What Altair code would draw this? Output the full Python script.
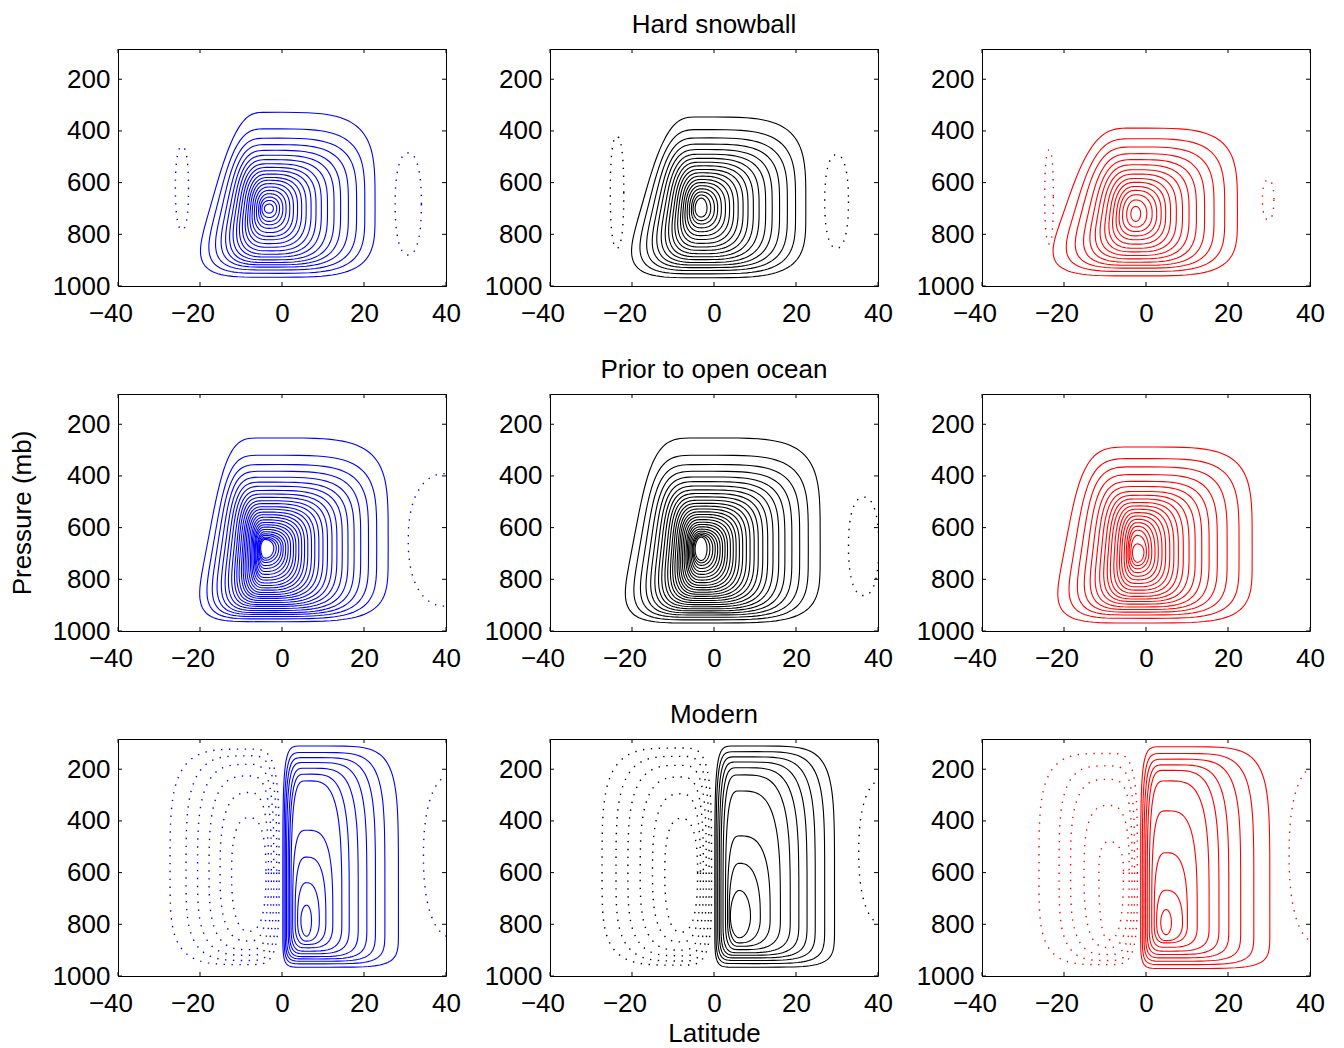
import numpy as np
import pandas as pd
import altair as alt

FONT = "Liberation Sans"
COLORS = ["#0000ff", "#000000", "#ff0000"]
ROW_TITLES = ["Hard snowball", "Prior to open ocean", "Modern"]
X_TICKS = [-40, -20, 0, 20, 40]
Y_TICKS = [200, 400, 600, 800, 1000]
P_TOP = 83
W, H = 328, 237

# ---------------- Hard snowball ----------------
hs_blue_center = (-3.1, 700)
hs_blue_left = [-17.6, -16.0, -14.7, -13.6, -12.7, -11.9, -11.2, -10.5, -9.9, -9.3,
                -8.7, -8.2, -7.7, -7.2, -6.7, -6.2, -5.7, -5.3, -4.9, -4.3]
hs_blue_right = [22.7, 20.2, 18.2, 16.2, 14.3, 12.7, 11.1, 9.6, 8.3, 7.1,
                 5.9, 4.8, 3.8, 2.8, 1.9, 1.0, 0.2, -0.6, -1.3, -2.1]
hs_blue_top = [328, 392, 428, 453, 475, 494, 511, 527, 541, 554,
               567, 580, 591, 604, 617, 630, 643, 656, 669, 683]
hs_blue_bottom = [966, 951, 938, 927, 918, 909, 899, 888, 877, 864,
                  850, 836, 821, 808, 793, 777, 763, 750, 735, 718]
hs_blue_neg = [((-24.4, 620), -26.0, -22.8, 460, 783), ((30.8, 683), 27.6, 34.0, 485, 880)]

hs_black_center = (-3.1, 699)
hs_black_left = [-17.8, -16.2, -14.9, -13.8, -12.9, -12.0, -11.2, -10.5, -9.8, -9.2,
                 -8.6, -8.0, -7.5, -7.0, -6.5, -6.0, -5.5, -5.1, -4.6]
hs_black_right = [22.4, 19.9, 17.9, 16.0, 14.2, 12.6, 11.0, 9.6, 8.3, 7.1,
                  5.9, 4.8, 3.8, 2.8, 1.8, 0.9, 0.1, -0.8, -1.7]
hs_black_top = [346, 395, 427, 451, 472, 490, 506, 521, 535, 549,
                562, 575, 588, 600, 612, 624, 636, 648, 660]
hs_black_bottom = [968, 953, 940, 929, 919, 909, 898, 887, 875, 862,
                   849, 835, 820, 805, 790, 775, 760, 747, 733]
hs_black_neg = [((-23.7, 638), -25.3, -22.0, 421, 854), ((29.9, 673), 27.0, 32.8, 492, 854)]

hs_red_center = (-2.5, 720)
hs_red_left = [-20.2, -17.6, -15.8, -14.1, -12.8, -11.7, -10.7, -9.7, -8.8, -8.0,
               -7.2, -6.5, -5.7, -4.7, -3.7]
hs_red_right = [22.3, 19.2, 16.6, 14.3, 12.3, 10.5, 8.9, 7.4, 6.0, 4.8,
                3.7, 2.6, 1.5, 0.2, -1.3]
hs_red_top = [389, 430, 462, 488, 511, 531, 550, 567, 584, 599, 615, 630, 647, 667, 692]
hs_red_bottom = [961, 944, 931, 920, 908, 895, 882, 868, 854, 838, 821, 806, 789, 772, 750]
hs_red_neg = [((-23.6, 655), -24.7, -22.6, 473, 837), ((29.8, 666), 28.4, 31.2, 589, 744)]

# ---------------- Prior to open ocean ----------------
pr_blue_center = (-4.1, 679)
pr_blue_left = [-18.4, -16.9, -15.8, -14.8, -13.9, -13.1, -12.4, -11.7, -11.1, -10.6,
                -10.1, -9.6, -9.2, -8.8, -8.4, -8.0, -7.6, -7.3, -7.0, -6.7,
                -6.5, -6.3, -6.0, -5.9, -5.7, -5.5, -5.4, -5.2]
pr_blue_right = [25.9, 23.1, 21.1, 19.2, 17.6, 16.1, 14.7, 13.4, 12.2, 11.1,
                 10.0, 9.0, 8.0, 7.2, 6.3, 5.5, 4.8, 4.1, 3.4, 2.8,
                 2.1, 1.5, 0.9, 0.3, -0.2, -0.8, -1.4, -2.0]
pr_blue_top = [253, 320, 356, 382, 405, 424, 440, 456, 470, 483,
               496, 507, 519, 529, 540, 550, 560, 570, 580, 589,
               598, 607, 616, 624, 630, 637, 642, 646]
pr_blue_bottom = [964, 953, 944, 936, 929, 921, 913, 905, 898, 890,
                  882, 874, 867, 859, 851, 842, 833, 824, 814, 803,
                  793, 781, 770, 758, 747, 735, 726, 718]
pr_blue_neg = [((40.0, 648), 30.8, 49.2, 391, 904)]

pr_black_center = (-3.1, 682)
pr_black_left = [-20.0, -18.2, -16.8, -15.6, -14.6, -13.7, -12.9, -12.2, -11.5, -10.9,
                 -10.3, -9.8, -9.3, -8.8, -8.4, -8.0, -7.6, -7.2, -6.8, -6.5,
                 -6.2, -5.9, -5.6, -5.3, -5.1, -4.9, -4.6]
pr_black_right = [25.9, 23.0, 20.9, 19.0, 17.3, 15.8, 14.4, 13.1, 11.9, 10.8,
                  9.8, 8.8, 7.9, 7.0, 6.2, 5.4, 4.7, 4.0, 3.3, 2.7,
                  2.1, 1.5, 0.9, 0.3, -0.3, -1.0, -1.7]
pr_black_top = [253, 320, 356, 382, 404, 422, 439, 454, 468, 481,
                494, 506, 517, 528, 539, 549, 559, 569, 579, 588,
                597, 606, 614, 621, 627, 632, 637]
pr_black_bottom = [969, 957, 947, 938, 930, 922, 914, 906, 898, 890,
                   882, 874, 866, 858, 850, 841, 832, 823, 813, 803,
                   792, 781, 770, 758, 746, 736, 727]
pr_black_neg = [((36.5, 672), 32.8, 40.2, 482, 863)]

pr_red_center = (-2.1, 695)
pr_red_left = [-20.0, -17.6, -15.8, -14.3, -13.0, -11.9, -10.9, -10.0, -9.2, -8.5,
               -7.7, -7.0, -6.4, -5.9, -5.3, -4.8, -4.4, -4.1, -3.7, -3.3]
pr_red_right = [25.9, 22.7, 19.8, 17.4, 15.4, 13.6, 12.0, 10.5, 9.1, 7.9,
                6.8, 5.8, 4.8, 3.9, 3.0, 2.2, 1.4, 0.7, 0.1, -0.5]
pr_red_top = [288, 333, 365, 395, 421, 441, 460, 475, 489, 503,
              516, 529, 542, 555, 568, 581, 595, 610, 630, 663]
pr_red_bottom = [969, 951, 938, 927, 917, 907, 896, 886, 876, 866,
                 854, 842, 829, 816, 802, 788, 774, 759, 747, 734]
pr_red_neg = []

# ---------------- Modern ----------------
mo_blue_center = (6.0, 785)
mo_blue_left = [0.2, 0.5, 0.8, 1.1, 1.5, 1.8, 2.2, 2.6, 3.2, 3.8, 4.6]
mo_blue_right = [28.4, 25.1, 22.8, 20.7, 18.6, 16.4, 14.6, 12.4, 10.7, 9.1, 7.2]
mo_blue_top = [110, 135, 155, 174, 196, 219, 245, 436, 540, 639, 726]
mo_blue_bottom = [966, 953, 943, 934, 925, 914, 904, 891, 878, 865, 846]
mo_blue_negcell = ((-8.0, 600), [-27.3, -23.4, -20.6, -17.8, -15.1, -12.3],
                   [-0.7, -1.3, -2.0, -2.6, -3.3, -3.9],
                   [122, 148, 181, 226, 290, 387], [956, 940, 920, 898, 865, 827])
mo_blue_neg = [((42.0, 535), 34.5, 49.5, 219, 852)]

mo_black_center = (6.2, 770)
mo_black_left = [0.2, 0.5, 0.9, 1.3, 1.7, 2.2, 2.8, 3.3, 3.7, 4.0]
mo_black_right = [29.4, 27.0, 24.7, 22.7, 20.7, 18.6, 16.2, 13.7, 11.3, 8.9]
mo_black_top = [110, 132, 152, 172, 194, 222, 284, 458, 564, 669]
mo_black_bottom = [966, 952, 940, 930, 920, 910, 898, 885, 872, 852]
mo_black_negcell = ((-8.0, 600), [-27.3, -23.9, -21.0, -18.0, -15.0, -12.0],
                    [-0.6, -1.2, -1.9, -2.6, -3.3, -4.0],
                    [118, 150, 185, 230, 295, 390], [958, 942, 922, 900, 868, 830])
mo_black_neg = [((41.5, 520), 35.3, 47.7, 239, 801)]

mo_red_center = (4.9, 794)
mo_red_left = [-1.3, -0.9, -0.5, -0.1, 0.3, 0.8, 1.4, 2.0, 2.6, 3.6]
mo_red_right = [30.2, 26.3, 23.1, 20.2, 17.8, 15.4, 12.5, 10.1, 8.9, 6.2]
mo_red_top = [113, 139, 161, 183, 204, 245, 361, 523, 668, 743]
mo_red_bottom = [971, 956, 943, 930, 917, 904, 889, 872, 863, 840]
mo_red_negcell = ((-9.0, 600), [-26.1, -21.2, -18.4, -15.1, -11.5],
                  [-2.1, -2.8, -3.4, -4.1, -5.5],
                  [139, 187, 239, 340, 480], [956, 940, 917, 890, 860])
mo_red_neg = [((42.0, 530), 34.9, 49.0, 187, 872)]

# panel layout: (center, left, right, top, bottom, shear, n_outer, n_inner, neg nested, neg cells)
PANELS = [
    [(hs_blue_center, hs_blue_left, hs_blue_right, hs_blue_top, hs_blue_bottom, 1.8, 4.0, 2.0, None, hs_blue_neg),
     (hs_black_center, hs_black_left, hs_black_right, hs_black_top, hs_black_bottom, 1.8, 4.0, 2.0, None, hs_black_neg),
     (hs_red_center, hs_red_left, hs_red_right, hs_red_top, hs_red_bottom, 2.2, 4.0, 2.0, None, hs_red_neg)],
    [(pr_blue_center, pr_blue_left, pr_blue_right, pr_blue_top, pr_blue_bottom, 1.2, 4.5, 2.0, None, pr_blue_neg),
     (pr_black_center, pr_black_left, pr_black_right, pr_black_top, pr_black_bottom, 1.2, 4.5, 2.0, None, pr_black_neg),
     (pr_red_center, pr_red_left, pr_red_right, pr_red_top, pr_red_bottom, 1.2, 4.5, 2.0, None, pr_red_neg)],
    [(mo_blue_center, mo_blue_left, mo_blue_right, mo_blue_top, mo_blue_bottom, 0.0, 6.0, 2.0, mo_blue_negcell, mo_blue_neg),
     (mo_black_center, mo_black_left, mo_black_right, mo_black_top, mo_black_bottom, 0.0, 6.0, 2.0, mo_black_negcell, mo_black_neg),
     (mo_red_center, mo_red_left, mo_red_right, mo_red_top, mo_red_bottom, 0.0, 6.0, 2.0, mo_red_negcell, mo_red_neg)],
]


def ring(cx, cp, L, R, T, B, n, shear, npts=110):
    t = np.linspace(0.0, 2 * np.pi, npts)
    c, s = np.cos(t), np.sin(t)
    fx = np.sign(c) * np.abs(c) ** (2.0 / n)
    fy = np.sign(s) * np.abs(s) ** (2.0 / n)
    x = np.where(fx >= 0, cx + (R - cx) * fx, cx + (cx - L) * fx)
    p = np.where(fy >= 0, cp + (B - cp) * fy, cp + (cp - T) * fy)
    x = x - np.where(fx < 0, shear * (p - cp) / 100.0 * np.abs(fx), 0.0)
    return np.round(x, 2), np.round(p, 1)


def nested(center, Ls, Rs, Ts, Bs, shear, n_out, n_in, tag):
    cx, cp = center
    frames = []
    k = len(Ls)
    for i in range(k):
        n = n_out + (n_in - n_out) * (i / max(k - 1, 1))
        sh = shear * (cx - Ls[i]) / (cx - Ls[0])
        x, p = ring(cx, cp, Ls[i], Rs[i], Ts[i], Bs[i], n, sh)
        frames.append(pd.DataFrame({"lat": x, "p": p, "cid": f"{tag}{i}", "k": np.arange(len(x))}))
    return frames


xscale = alt.Scale(domain=[-40, 40], nice=False, zero=False)
yscale = alt.Scale(domain=[P_TOP, 1000], reverse=True, nice=False, zero=False)

neg_cond_align = {"condition": {"test": "datum.value < 0", "value": "right"}, "value": "center"}
neg_cond_offset = {"condition": {"test": "datum.value < 0", "value": 14.5}, "value": 0}


def make_panel(r, c):
    center, Ls, Rs, Ts, Bs, shear, n_out, n_in, negcell, negs = PANELS[r][c]
    color = COLORS[c]
    solid = pd.concat(nested(center, Ls, Rs, Ts, Bs, shear, n_out, n_in, "s"), ignore_index=True)
    dframes = []
    if negcell is not None:
        dframes += nested(negcell[0], negcell[1], negcell[2], negcell[3], negcell[4], 0.0, 4.0, 2.5, "n")
    for j, (cen, L, R, T, B) in enumerate(negs):
        x, p = ring(cen[0], cen[1], L, R, T, B, 2.3, 0.0)
        dframes.append(pd.DataFrame({"lat": x, "p": p, "cid": f"d{j}", "k": np.arange(len(x))}))

    xaxis = alt.Axis(values=X_TICKS, format="d", labelFlush=False, labelPadding=14,
                     labelAlign=neg_cond_align, labelOffset=neg_cond_offset,
                     title="Latitude" if (r == 2 and c == 1) else None, titlePadding=4)
    yaxis = alt.Axis(values=Y_TICKS, format="d", labelPadding=8,
                     title="Pressure (mb)" if (r == 1 and c == 0) else None, titlePadding=17)
    X = alt.X("lat:Q", scale=xscale, axis=xaxis)
    Y = alt.Y("p:Q", scale=yscale, axis=yaxis)

    layers = [alt.Chart(solid).mark_line(color=color, strokeWidth=1.1, clip=True).encode(
        x=X, y=Y, detail="cid:N", order="k:Q")]
    if dframes:
        dotted = pd.concat(dframes, ignore_index=True)
        layers.append(alt.Chart(dotted).mark_line(color=color, strokeWidth=1.4, strokeDash=[1.4, 6.5],
                                                  clip=True).encode(
            x=X, y=Y, detail="cid:N", order="k:Q"))
    xt = pd.DataFrame({"lat": X_TICKS})
    yt = pd.DataFrame({"p": Y_TICKS})
    layers.append(alt.Chart(xt).mark_rule(color="black", strokeWidth=1).encode(
        x=X, y=alt.value(0), y2=alt.value(4)))
    layers.append(alt.Chart(xt).mark_rule(color="black", strokeWidth=1).encode(
        x=X, y=alt.value(H), y2=alt.value(H - 4)))
    layers.append(alt.Chart(yt).mark_rule(color="black", strokeWidth=1).encode(
        y=Y, x=alt.value(0), x2=alt.value(4)))
    layers.append(alt.Chart(yt).mark_rule(color="black", strokeWidth=1).encode(
        y=Y, x=alt.value(W), x2=alt.value(W - 4)))
    props = dict(width=W, height=H)
    if c == 1:
        props["title"] = alt.TitleParams(ROW_TITLES[r], offset=11, anchor="middle")
    return alt.layer(*layers).properties(**props)


panels = [make_panel(r, c) for r in range(3) for c in range(3)]

chart = alt.concat(*panels, columns=3, spacing={"row": 29, "column": 22}, align="each").properties(
    padding={"left": 0, "top": 3, "right": 0, "bottom": 0},
    background="white"
).configure_view(
    stroke="black", strokeWidth=1
).configure_axis(
    labelFont=FONT, labelFontSize=26, labelColor="black",
    titleFont=FONT, titleFontSize=26, titleFontWeight="normal", titleColor="black",
    grid=False, domain=False, ticks=False, tickSize=0
).configure_title(
    font=FONT, fontSize=26, fontWeight="normal", color="black"
)

chart.save("out.html", embed_options={"renderer": "svg", "actions": False})
